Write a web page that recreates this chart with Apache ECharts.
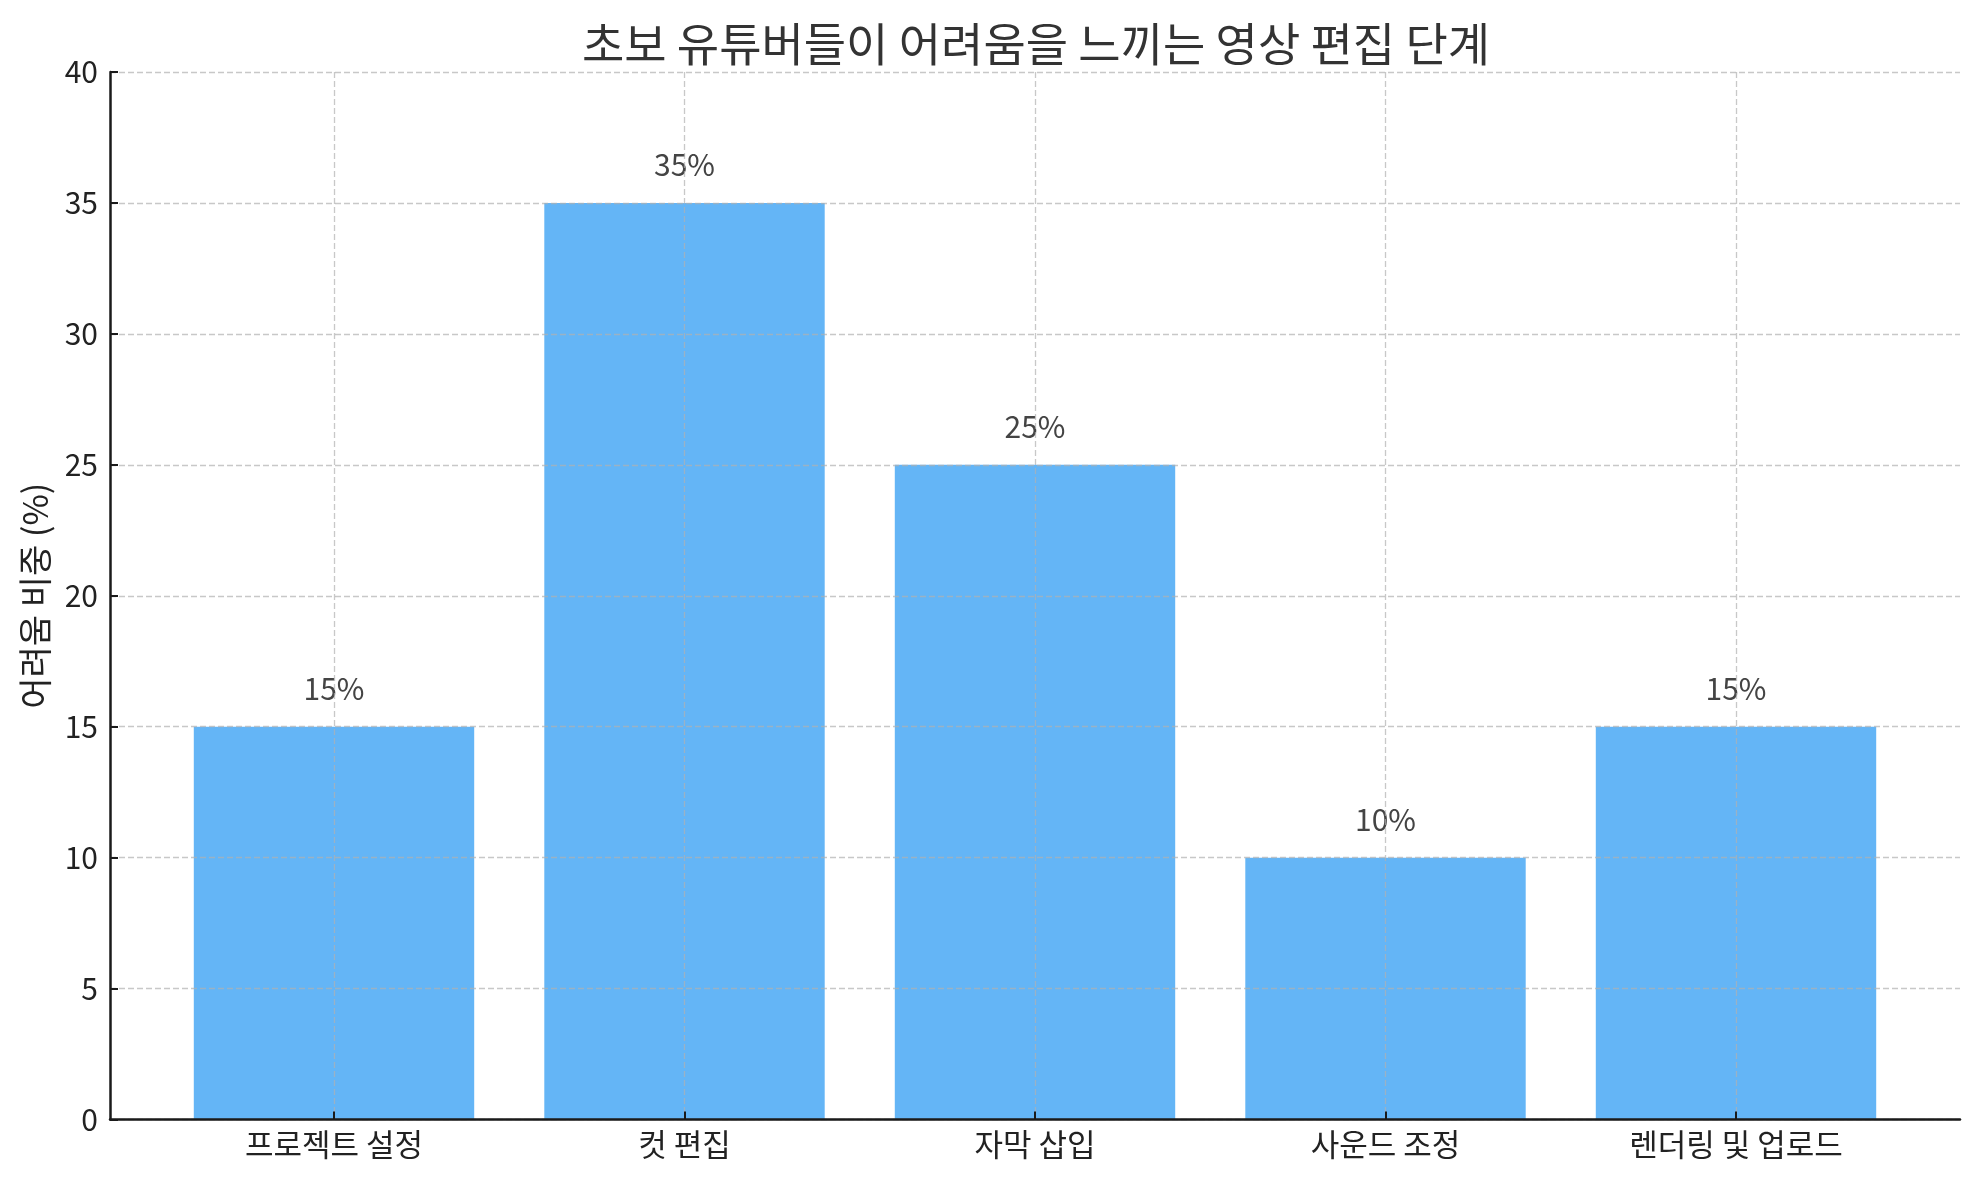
<!DOCTYPE html>
<html>
<head>
<meta charset="utf-8">
<script src="https://cdn.jsdelivr.net/npm/echarts@6/dist/echarts.min.js"></script>
<style>
html,body{margin:0;padding:0;background:#fff;}
#c{width:1979px;height:1180px;}
</style>
</head>
<body>
<div id="c"></div>
<script>
const titleText = '초보 유튜버들이 어려움을 느끼는 영상 편집 단계';
const yAxisName = '어려움 비중 (%)';
const categories = ['프로젝트 설정', '컷 편집', '자막 삽입', '사운드 조정', '렌더링 및 업로드'];
const values = [15, 35, 25, 10, 15];
const yMin = 0, yMax = 40, yStep = 5;

const FONT = '"Noto Sans CJK KR", "Noto Sans", sans-serif';
const gridLine = { show: true, lineStyle: { color: 'rgba(176,176,176,0.7)', width: 1.3, type: [6, 3] } };

const chart = echarts.init(document.getElementById('c'), null, { renderer: 'canvas' });
chart.setOption({
  backgroundColor: '#fff',
  animation: false,
  title: {
    text: titleText,
    left: 1031, top: 15, textAlign: 'center',
    textStyle: { fontFamily: FONT, fontSize: 46, fontWeight: 'normal', color: '#333', lineHeight: 48 }
  },
  grid: [
    { left: 110, right: 19, top: 72, bottom: 60.5, containLabel: false },
    { left: 334, right: 243, top: 72, bottom: 60.5, containLabel: false }
  ],
  xAxis: [
    {
      type: 'value', gridIndex: 0, min: 0, max: 1,
      axisLine: { show: true, onZero: false, lineStyle: { color: '#1a1a1a', width: 2.5 } },
      axisTick: { show: false }, axisLabel: { show: false }, splitLine: { show: false },
      z: 4
    },
    {
      type: 'category', gridIndex: 1, data: categories, boundaryGap: false,
      axisLine: { show: false },
      axisTick: { show: true, inside: true, length: 8, lineStyle: { color: '#1a1a1a', width: 2 } },
      axisLabel: { show: true, margin: 9, fontFamily: FONT, fontSize: 31, color: '#222', interval: 0, showMinLabel: true, showMaxLabel: true },
      splitLine: gridLine,
      z: 3
    }
  ],
  yAxis: [
    {
      type: 'value', gridIndex: 0, min: yMin, max: yMax, interval: yStep,
      name: yAxisName, nameLocation: 'middle', nameRotate: 90, nameGap: 58,
      nameTextStyle: { fontFamily: FONT, fontSize: 34, color: '#222' },
      axisLine: { show: true, onZero: false, lineStyle: { color: '#1a1a1a', width: 2.5 } },
      axisTick: { show: true, inside: true, length: 8, lineStyle: { color: '#1a1a1a', width: 2 } },
      axisLabel: { show: true, margin: 12, fontFamily: FONT, fontSize: 30, color: '#222' },
      splitLine: gridLine,
      z: 3
    },
    {
      type: 'value', gridIndex: 1, min: yMin, max: yMax, interval: yStep, show: false
    }
  ],
  series: [{
    type: 'bar',
    xAxisIndex: 1, yAxisIndex: 1,
    data: values,
    barWidth: '80%',
    clip: false,
    itemStyle: { color: '#64B5F6' },
    label: {
      show: true, position: 'top', distance: 23,
      formatter: '{c}%',
      fontFamily: FONT, fontSize: 30, color: '#444'
    },
    z: 2
  }]
});
</script>
</body>
</html>
